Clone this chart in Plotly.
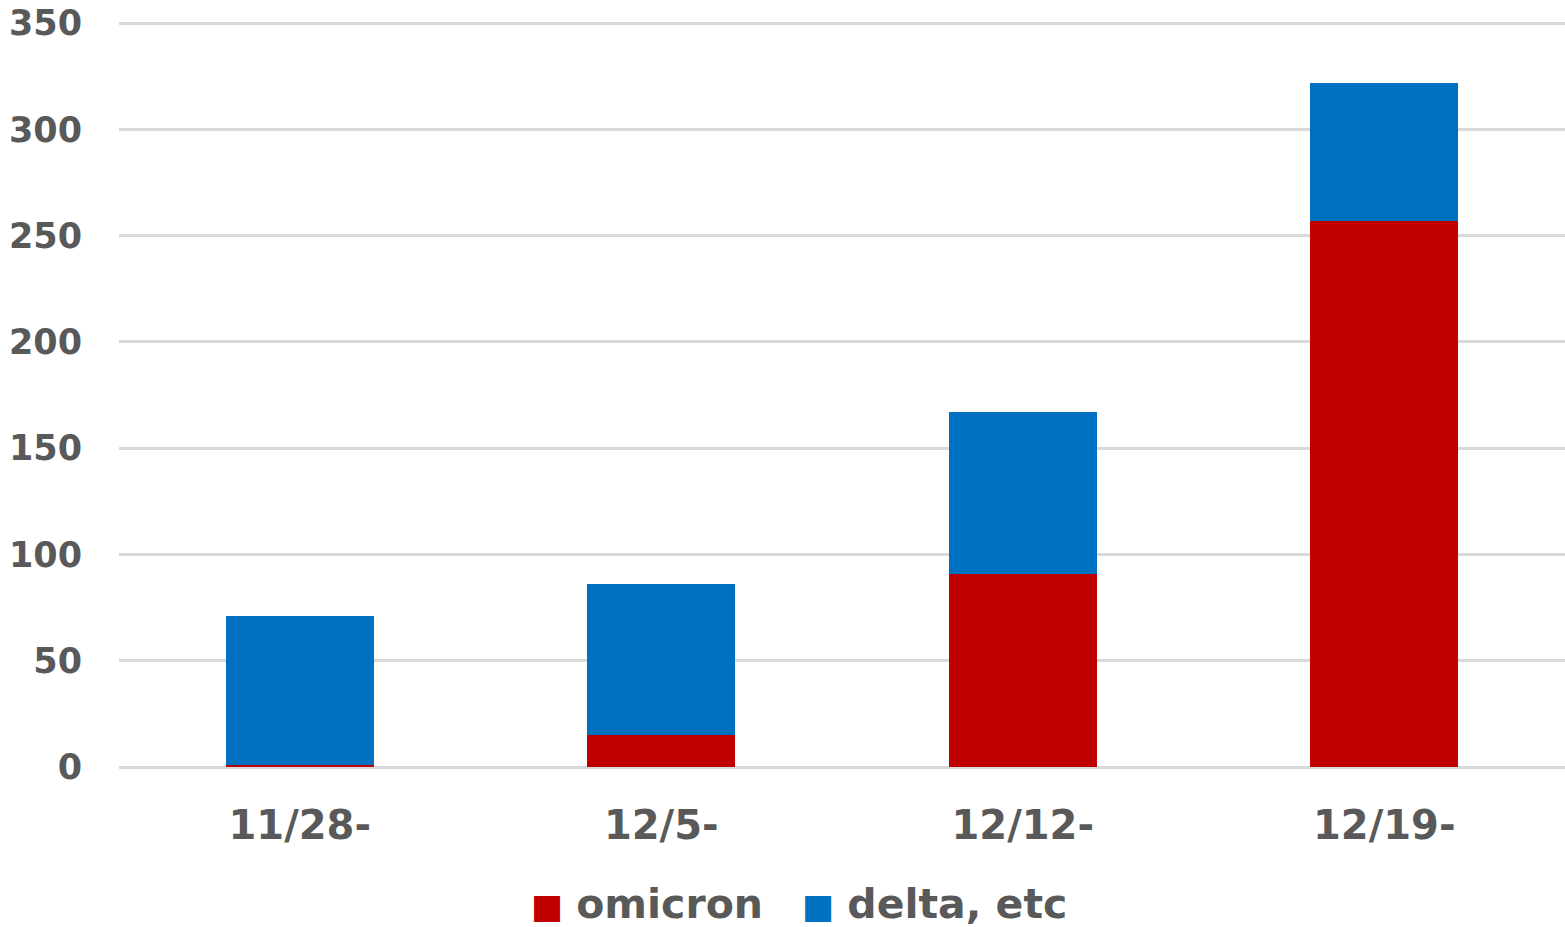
import plotly.graph_objects as go

categories = ["11/28-", "12/5-", "12/12-", "12/19-"]
omicron = [1, 15, 91, 257]
delta = [70, 71, 76, 65]
y_ticks = [0, 50, 100, 150, 200, 250, 300, 350]

RED = "#C00000"
BLUE = "#0070C0"
TXT = "#595959"
FONT = "DejaVu Sans"

fig = go.Figure()
fig.add_trace(go.Bar(x=categories, y=omicron, name="omicron",
                     marker=dict(color=RED, line=dict(width=0)), showlegend=False))
fig.add_trace(go.Bar(x=categories, y=delta, name="delta, etc",
                     marker=dict(color=BLUE, line=dict(width=0)), showlegend=False))

legend_text = (f"<span style='color:{RED};font-size:34px'>■</span> <b>omicron</b>"
               f"   <span style='color:{BLUE};font-size:34px'>■</span> <b>delta, etc</b>")
fig.add_annotation(text=legend_text, xref="paper", yref="paper",
                   x=0.47, y=-0.183, xanchor="center", yanchor="middle",
                   showarrow=False, font=dict(family=FONT, size=41, color=TXT))

fig.update_layout(
    barmode="stack",
    bargap=0.59,
    width=1565, height=927,
    margin=dict(l=119, r=0, t=21, b=160, pad=0),
    paper_bgcolor="white", plot_bgcolor="white",
    font=dict(family=FONT, color=TXT),
    xaxis=dict(showgrid=False, showline=False, ticks="",
               tickfont=dict(family=FONT, size=40, color=TXT, weight="bold"),
               ticklabelstandoff=31),
    yaxis=dict(range=[0, 351], tickvals=y_ticks, showgrid=True,
               gridcolor="#D9D9D9", gridwidth=3,
               zeroline=True, zerolinecolor="#D9D9D9", zerolinewidth=3,
               showline=False, ticks="",
               tickfont=dict(family=FONT, size=35, color=TXT, weight="bold"),
               ticklabelstandoff=36),
)

fig.write_html("out.html")
